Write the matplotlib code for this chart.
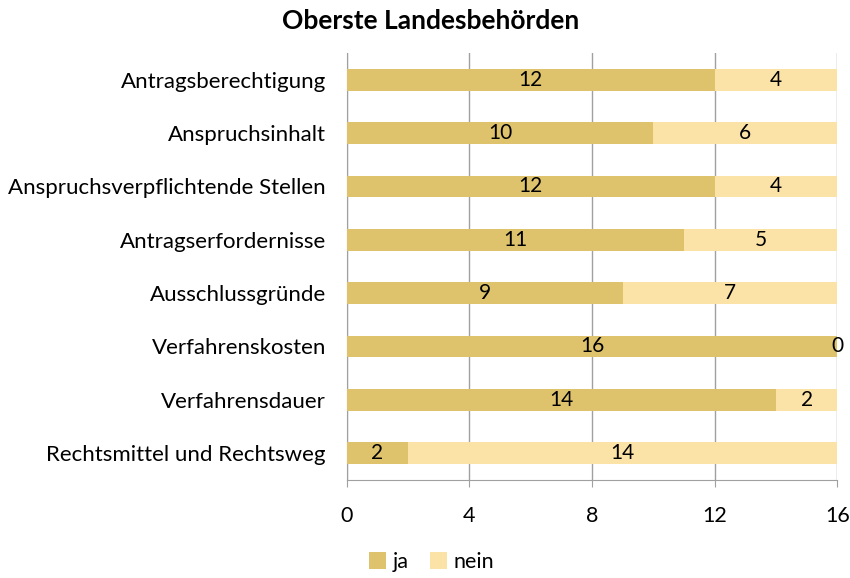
import numpy as np
import matplotlib.pyplot as plt

categories = ["Antragsberechtigung", "Anspruchsinhalt", "Anspruchsverpflichtende Stellen",
              "Antragserfordernisse", "Ausschlussgründe", "Verfahrenskosten",
              "Verfahrensdauer", "Rechtsmittel und Rechtsweg"]
ja = [12, 10, 12, 11, 9, 16, 14, 2]
nein = [4, 6, 4, 5, 7, 0, 2, 14]
xticks = [0, 4, 8, 12, 16]

c_ja = "#DEC36C"
c_nein = "#FBE2A6"

plt.rcParams['font.family'] = ['Lato', 'DejaVu Sans']

fig = plt.figure(figsize=(8.5, 5.78), dpi=100)
ax = fig.add_axes([0.408, 0.17, 0.577, 0.738])

y = np.arange(len(categories))
b1 = ax.barh(y, ja, height=0.41, color=c_ja, label="ja", zorder=3)
b2 = ax.barh(y, nein, left=ja, height=0.41, color=c_nein, label="nein", zorder=3)
ax.bar_label(b1, labels=[str(v) for v in ja], label_type="center", fontsize=15)
ax.bar_label(b2, labels=[str(v) for v in nein], label_type="center", fontsize=15)

ax.set_xlim(0, 16)
ax.set_ylim(len(categories) - 0.5, -0.5)
ax.set_xticks(xticks)
ax.set_yticks(y)
ax.set_yticklabels(categories, fontsize=16)
ax.tick_params(axis="x", labelsize=15.5, length=5, color="#A0A0A0", pad=14)
ax.tick_params(axis="y", length=0, pad=15)
ax.grid(axis="x", color="#A0A0A0", linewidth=1, zorder=0)
for s in ["top", "right"]:
    ax.spines[s].set_visible(False)
for s in ["left", "bottom"]:
    ax.spines[s].set_color("#A0A0A0")

fig.text(0.507, 0.963, "Oberste Landesbehörden", ha="center", va="center",
         fontsize=19, fontweight="bold")
fig.legend(handles=[b1, b2], loc="center", bbox_to_anchor=(0.508, 0.028), ncol=2,
           frameon=False, fontsize=15.5, handlelength=0.8, handleheight=0.8,
           handletextpad=0.3, columnspacing=1.0)

fig.savefig("out.png", dpi=100)
